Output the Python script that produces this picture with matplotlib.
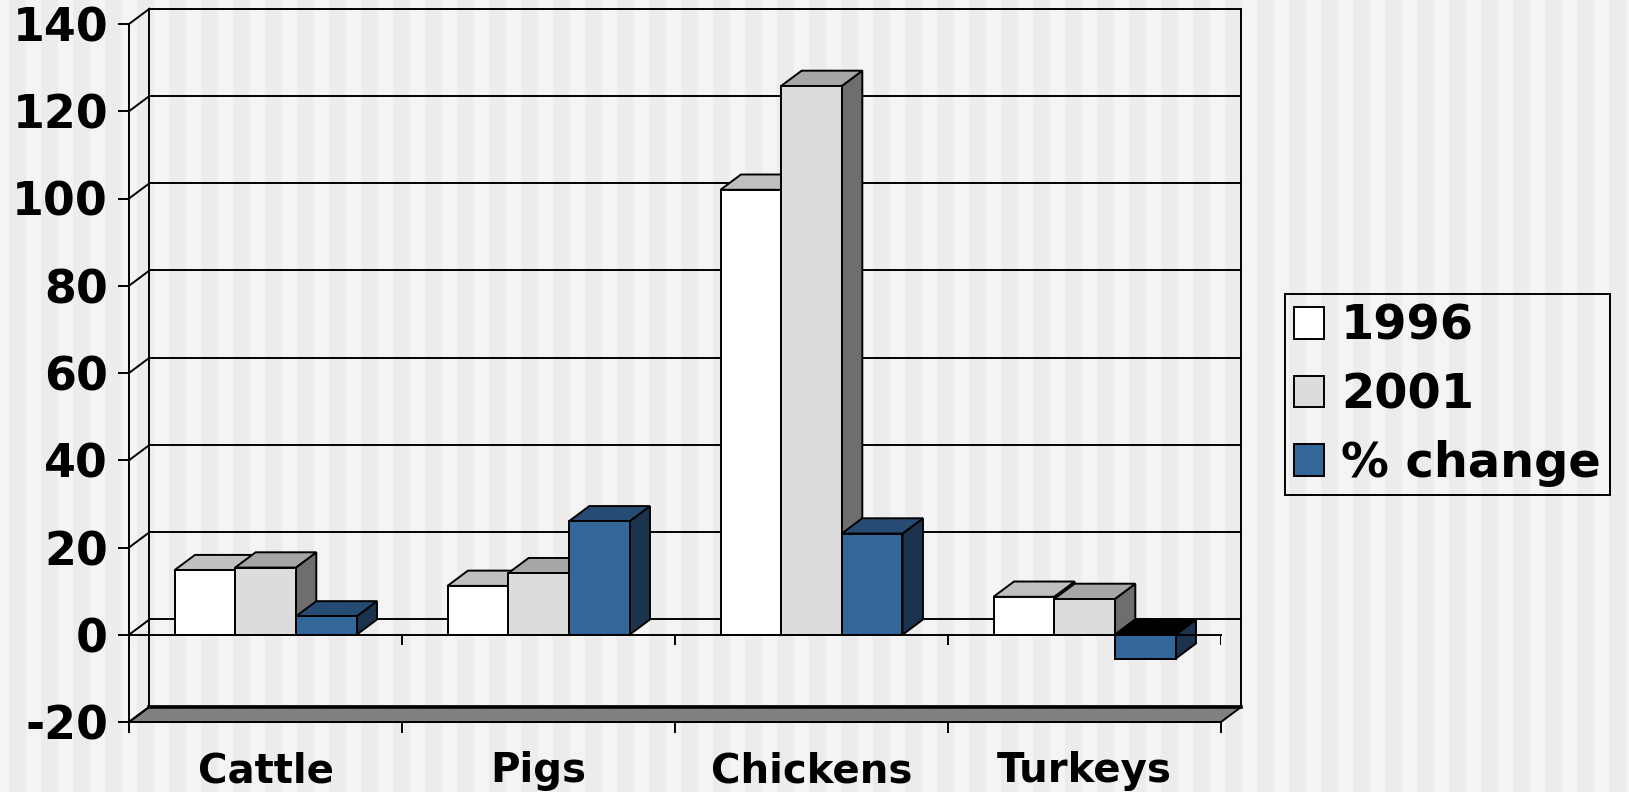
import numpy as np
import matplotlib.pyplot as plt
from matplotlib.patches import Polygon, Patch

categories = ["Cattle", "Pigs", "Chickens", "Turkeys"]
series = ["1996", "2001", "% change"]
v1996 = [14.8, 11.2, 102.0, 8.7]
v2001 = [15.4, 14.1, 125.8, 8.2]
pct_change = [4.2, 26.0, 23.2, -5.5]
yticks = list(range(-20, 141, 20))

front_col = ["#ffffff", "#dcdcdc", "#336699"]
top_col = ["#c0c0c0", "#a6a6a6", "#264c73"]
side_col = ["#a0a0a0", "#6e6e6e", "#1b334d"]

plt.rcParams['font.family'] = ['DejaVu Sans']
plt.rcParams['font.weight'] = 'bold'
plt.rcParams['axes.unicode_minus'] = False

W, H = 1629, 792
fig = plt.figure(figsize=(W / 100, H / 100), dpi=100)
fig.patch.set_facecolor("#f4f4f4")

# striped backdrop
bg = fig.add_axes([0, 0, 1, 1], zorder=-1)
bg.set_xlim(0, W)
bg.set_ylim(0, 1)
for x in np.arange(9, W, 32):
    bg.axvspan(x, x + 17, color="#ececec", lw=0)
bg.axis("off")

ax = fig.add_axes([129 / W, 1 - 722 / H, (1221 - 129) / W, (722 - 24) / H])
ax.patch.set_visible(False)
ax.set_xlim(0, 4)
ax.set_ylim(-20, 140)

DX, DY = 0.075, 3.5   # depth offset (category units, value units)
lw = 1.4
k = dict(color="k", lw=lw, clip_on=False)

# floor
ax.add_patch(Polygon([(0, -20), (4, -20), (4 + DX, -20 + DY), (DX, -20 + DY)],
                     closed=True, fc="#808080", ec="k", lw=lw, clip_on=False, zorder=1))
ax.plot([DX, 4 + DX], [-20 + DY] * 2, color="k", lw=2.6, clip_on=False, zorder=1)

# back wall + side wall lines
for v in yticks:
    ax.plot([0, DX], [v, v + DY], zorder=1, **k)
    if v > -20:
        ax.plot([DX, 4 + DX], [v + DY] * 2, zorder=1, **k)
ax.plot([DX, DX], [-20 + DY, 140 + DY], zorder=1, **k)
ax.plot([4 + DX, 4 + DX], [-20 + DY, 140 + DY], zorder=1, **k)

# bars
w = 1 / 4.5
data = [v1996, v2001, pct_change]
for i in range(len(categories)):
    for j in range(3):
        v = data[j][i]
        xl = i + 0.5 - 1.5 * w + j * w
        lo, hi = min(v, 0), max(v, 0)
        tc = top_col[j] if v >= 0 else "#000000"
        ax.add_patch(Polygon([(xl + w, lo), (xl + w + DX, lo + DY), (xl + w + DX, hi + DY), (xl + w, hi)],
                             closed=True, fc=side_col[j], ec="k", lw=lw, clip_on=False, zorder=3))
        ax.add_patch(Polygon([(xl, hi), (xl + w, hi), (xl + w + DX, hi + DY), (xl + DX, hi + DY)],
                             closed=True, fc=tc, ec="k", lw=lw, clip_on=False, zorder=3))
        ax.add_patch(Polygon([(xl, lo), (xl + w, lo), (xl + w, hi), (xl, hi)],
                             closed=True, fc=front_col[j], ec="k", lw=lw, clip_on=False, zorder=3))

# category axis at zero
ax.plot([0, 4], [0, 0], zorder=4, **k)
ax.vlines(range(5), -2.4, 0, colors="k", lw=lw, zorder=4)

for s in ["top", "right"]:
    ax.spines[s].set_visible(False)
for s in ["left", "bottom"]:
    ax.spines[s].set_linewidth(lw)

ax.set_yticks(yticks)
ax.tick_params(axis="y", length=8, width=lw, pad=7, labelsize=33)
ax.set_xticks(range(5))
ax.set_xticklabels([])
ax.set_xticks([0.5, 1.5, 2.5, 3.5], minor=True)
ax.set_xticklabels(categories, minor=True)
ax.tick_params(axis="x", which="major", length=8, width=lw)
ax.tick_params(axis="x", which="minor", length=0, pad=21, labelsize=29)

handles = [Patch(fc=c, ec="k", lw=lw) for c in front_col]
leg = fig.legend(handles, series, loc="upper left",
                 bbox_to_anchor=(1285 / W, 1 - 294 / H), bbox_transform=fig.transFigure,
                 fontsize=34.5, frameon=True, fancybox=False, facecolor="none",
                 edgecolor="k", framealpha=1, borderpad=0.18, borderaxespad=0,
                 handlelength=0.64, handleheight=0.64, handletextpad=0.35,
                 labelspacing=0.45)
leg.get_frame().set_linewidth(lw)

fig.savefig("out.png", dpi=100, facecolor=fig.get_facecolor())
